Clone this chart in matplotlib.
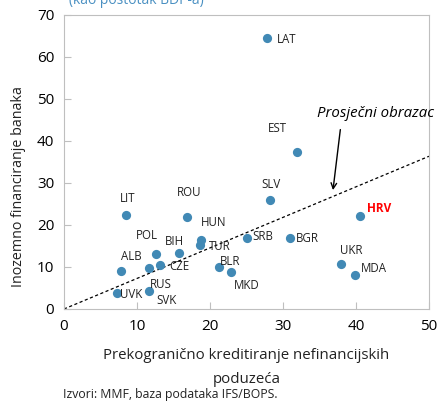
import matplotlib
matplotlib.use("Agg")
import matplotlib.pyplot as plt

plt.rcParams['font.family'] = ['Open Sans', 'DejaVu Sans']

countries = ['LAT', 'EST', 'SLV', 'HRV', 'SRB', 'BGR', 'UKR', 'MDA', 'BLR', 'MKD',
             'LIT', 'ROU', 'HUN', 'TUR', 'POL', 'BIH', 'ALB', 'CZE', 'RUS', 'SVK', 'UVK']
x_vals = [27.8, 31.9, 28.2, 40.6, 25.1, 31.0, 37.9, 39.9, 21.2, 22.9,
          8.5, 16.8, 18.8, 18.6, 12.6, 15.7, 7.8, 13.2, 11.6, 11.6, 7.3]
y_vals = [64.3, 37.3, 25.9, 22.1, 16.9, 16.8, 10.6, 8.1, 9.9, 8.7,
          22.3, 21.9, 16.3, 15.2, 13.1, 13.4, 9.1, 10.4, 4.3, 9.7, 3.9]
# label offsets in pixels (dx, dy), and horizontal alignment
label_off = [(10, -1, 'left'), (-20, 24, 'center'), (1, 16, 'center'), (7, 8, 'left'),
             (5, 1, 'left'), (6, 0, 'left'), (11, 14, 'center'), (6, 6, 'left'),
             (11, 6, 'center'), (16, -13, 'center'), (2, 17, 'center'), (2, 24, 'center'),
             (12, 18, 'center'), (20, -1, 'center'), (-9, 18, 'center'), (-4, 11, 'center'),
             (10, 14, 'center'), (19, -1, 'center'), (12, 6, 'center'), (18, -32, 'center'),
             (14, -2, 'center')]

trend_x = [0, 50]
trend_y = [0, 36.3]

fig = plt.figure(figsize=(4.4, 4.03), dpi=100)
ax = fig.add_axes([0.1455, 0.2333, 0.8295, 0.7307])

ax.plot(trend_x, trend_y, color='black', linestyle=(0, (2.5, 2)), linewidth=0.9, zorder=1)
ax.scatter(x_vals, y_vals, s=44, color='#4189B5', zorder=3, linewidths=0)

for c, xv, yv, (dx, dy, ha) in zip(countries, x_vals, y_vals, label_off):
    if c == 'HRV':
        ax.annotate(c, (xv, yv), xytext=(dx, dy), textcoords='offset pixels',
                    ha=ha, va='center', fontsize=8.5, color='#FF0000', fontweight='bold')
    else:
        ax.annotate(c, (xv, yv), xytext=(dx, dy), textcoords='offset pixels',
                    ha=ha, va='center', fontsize=8.3, color='#222222')

ax.annotate('', xy=(36.8, 27.6), xytext=(37.9, 43.3),
            arrowprops=dict(arrowstyle='->', color='black', lw=1.0))
ax.text(34.6, 46.4, 'Prosječni obrazac', fontsize=10.8, style='italic',
        ha='left', va='center', clip_on=False)

ax.set_xlim(0, 50)
ax.set_ylim(0, 70)
ax.set_xticks(range(0, 51, 10))
ax.set_yticks(range(0, 71, 10))
ax.tick_params(direction='in', length=5, color='#BFBFBF', labelsize=11, pad=7)
for s in ax.spines.values():
    s.set_color('#BFBFBF')

ax.set_xlabel('Prekogranično kreditiranje nefinancijskih\npoduzeća', fontsize=10.8,
              color='#222222', labelpad=10, linespacing=1.9)
ax.set_ylabel('Inozemno financiranje banaka', fontsize=10.3, color='#222222')
ax.yaxis.set_label_coords(-0.105, 0.417)

fig.text(0.157, 1.0, '(kao postotak BDP-a)', fontsize=10, color='#4A90C2',
         ha='left', va='center')
fig.text(0.143, 0.022, 'Izvori: MMF, baza podataka IFS/BOPS.', fontsize=8.8,
         color='#222222', ha='left', va='center')

fig.savefig('out.png', dpi=100)
